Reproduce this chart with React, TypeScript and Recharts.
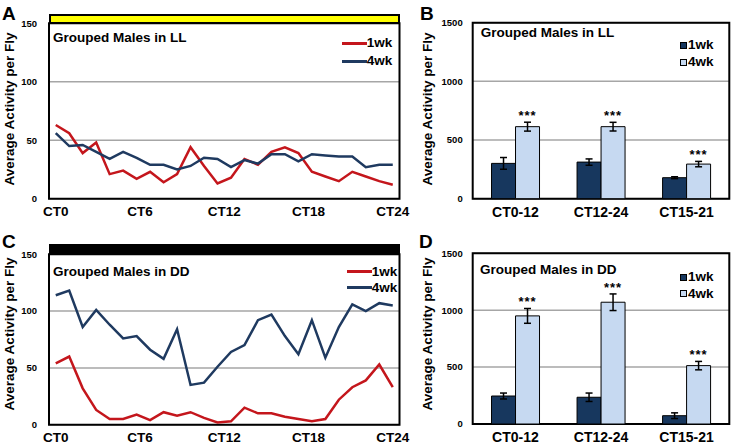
import {
  Bar,
  BarChart,
  CartesianGrid,
  ErrorBar,
  LabelList,
  Legend,
  Line,
  LineChart,
  ReferenceArea,
  XAxis,
  YAxis,
} from "recharts";

// time axis (26 bins across CT0..CT24)
const hourTicks = [0, 6, 12, 18, 24];
const hourLabels = ["CT0", "CT6", "CT12", "CT18", "CT24"];

// LL, line panel A
const ll1wk = [63, 56, 39, 48, 21, 24, 17, 23, 14, 21, 44, 28, 13, 18, 34, 29, 40, 44, 39, 23, 19, 15, 23, 19, 15, 12];
const ll4wk = [56, 45, 46, 40, 34, 40, 35, 29, 29, 25, 28, 35, 34, 27, 33, 30, 38, 38, 32, 38, 37, 36, 36, 27, 29, 29];

// DD, line panel C
const dd1wk = [54, 60, 32, 13, 5, 5, 9, 4, 11, 8, 11, 6, 2, 3, 15, 10, 10, 7, 5, 3, 5, 22, 33, 39, 53, 33];
const dd4wk = [114, 118, 86, 101, 88, 76, 78, 66, 58, 84, 35, 37, 51, 64, 70, 92, 97, 78, 62, 92, 59, 86, 106, 100, 107, 105];

// bar panels B and D
const barCats = ["CT0-12", "CT12-24", "CT15-21"];
const llBar1 = [301, 312, 179];
const llBar1Err = [50, 27, 8];
const llBar4 = [614, 614, 295];
const llBar4Err = [38, 37, 23];
const ddBar1 = [246, 235, 73];
const ddBar1Err = [26, 37, 25];
const ddBar4 = [950, 1070, 513];
const ddBar4Err = [65, 73, 37];
const sigMarks = ["***", "***", "***"];

const FONT = '"Liberation Sans", Arial, Helvetica, sans-serif';
const RED = "#c4161c";
const NAVY = "#1f3a60";
const DARK = "#17375e";
const LIGHT = "#c6d9f1";
const GRID = "#a6a6a6";

const lineRows = (a: number[], b: number[]) =>
  a.map((v, i) => ({ t: (i * 24) / (a.length - 1), w1: v, w4: b[i] }));

const barRows = (a: number[], ae: number[], b: number[], be: number[]) =>
  barCats.map((c, i) => ({ cat: c, w1: a[i], e1: ae[i], w4: b[i], e4: be[i], sig: sigMarks[i] }));

const tickStyle = { fontFamily: FONT, fontWeight: 700, fill: "#000" };

const lineLegend = (rowH: number) => (props: any) => (
  <div style={{ fontFamily: FONT, fontWeight: 700, fontSize: 13.5, color: "#000" }}>
    {(props.payload || []).map((p: any) => (
      <div key={p.value} style={{ display: "flex", alignItems: "center", height: rowH }}>
        <div style={{ width: 25, height: 3, background: p.color }} />
        <span style={{ lineHeight: 1 }}>{p.value}</span>
      </div>
    ))}
  </div>
);

const barLegend = (rowH: number) => (props: any) => (
  <div style={{ fontFamily: FONT, fontWeight: 700, fontSize: 13.5, color: "#000" }}>
    {(props.payload || []).map((p: any) => (
      <div key={p.value} style={{ display: "flex", alignItems: "center", height: rowH }}>
        <div
          style={{
            width: 7,
            height: 7,
            background: p.color,
            border: "1px solid #000",
            boxSizing: "border-box",
            marginRight: 1,
          }}
        />
        <span style={{ lineHeight: 1 }}>{p.value}</span>
      </div>
    ))}
  </div>
);

type LineProps = {
  left: number;
  top: number;
  height: number;
  plotTop: number;
  plotH: number;
  w1: number[];
  w4: number[];
  legendLeft: number;
  legendTop: number;
  rowH: number;
};

const LinePanel = ({ left, top, height, plotTop, plotH, w1, w4, legendLeft, legendTop, rowH }: LineProps) => (
  <div style={{ position: "absolute", left, top }}>
    <LineChart
      width={410}
      height={height}
      data={lineRows(w1, w4)}
      margin={{ top: plotTop, right: 10.5, left: 9, bottom: 0 }}
    >
      <CartesianGrid vertical={false} stroke={GRID} strokeWidth={1.5} />
      <XAxis
        type="number"
        dataKey="t"
        domain={[-0.48, 24.48]}
        allowDataOverflow
        ticks={hourTicks}
        interval={0}
        tickFormatter={(v) => hourLabels[hourTicks.indexOf(v)]}
        height={height - plotTop - plotH}
        axisLine={false}
        tickLine={false}
        tick={{ ...tickStyle, fontSize: 13.5 }}
      />
      <YAxis
        width={40}
        domain={[0, 150]}
        ticks={[0, 50, 100, 150]}
        axisLine={false}
        tickLine={false}
        tickMargin={6}
        tick={{ ...tickStyle, fontSize: 9.5 }}
      />
      <ReferenceArea y1={0} y2={150} fill="none" stroke="#000" strokeWidth={2} ifOverflow="visible" />
      <Legend
        layout="horizontal"
        verticalAlign="middle"
        align="center"
        wrapperStyle={{ left: legendLeft, top: legendTop, width: "auto", height: "auto" }}
        content={lineLegend(rowH)}
      />
      <Line
        name="1wk"
        dataKey="w1"
        stroke={RED}
        strokeWidth={2.5}
        dot={false}
        isAnimationActive={false}
        type="linear"
      />
      <Line
        name="4wk"
        dataKey="w4"
        stroke={NAVY}
        strokeWidth={2.5}
        dot={false}
        isAnimationActive={false}
        type="linear"
      />
    </LineChart>
  </div>
);

type BarProps = {
  left: number;
  top: number;
  height: number;
  plotTop: number;
  plotH: number;
  a: number[];
  ae: number[];
  b: number[];
  be: number[];
  legendLeft: number;
  legendTop: number;
  rowH: number;
};

const starLabel = (vals: number[], errs: number[]) => (props: any) => {
  const { x, y, width, height, index, value } = props;
  if (x == null || y == null || !vals[index]) return null;
  const errPx = (errs[index] * height) / vals[index];
  return (
    <text
      x={x + width / 2}
      y={y - errPx - 2}
      textAnchor="middle"
      fontFamily={FONT}
      fontWeight={700}
      fontSize={13}
      letterSpacing={1}
      fill="#000"
    >
      {value}
    </text>
  );
};

const BarPanel = ({ left, top, height, plotTop, plotH, a, ae, b, be, legendLeft, legendTop, rowH }: BarProps) => (
  <div style={{ position: "absolute", left, top }}>
    <BarChart
      width={311}
      height={height}
      data={barRows(a, ae, b, be)}
      margin={{ top: plotTop, right: 1.7, left: 12.7, bottom: 0 }}
      barGap={0}
      barCategoryGap="22%"
    >
      <CartesianGrid vertical={false} stroke={GRID} strokeWidth={1.5} />
      <XAxis
        dataKey="cat"
        height={height - plotTop - plotH}
        axisLine={false}
        tickLine={false}
        interval={0}
        tick={{ ...tickStyle, fontSize: 14 }}
      />
      <YAxis
        width={40}
        domain={[0, 1500]}
        ticks={[0, 500, 1000, 1500]}
        axisLine={false}
        tickLine={false}
        tickMargin={4}
        tick={{ ...tickStyle, fontSize: 9.5 }}
      />
      <ReferenceArea y1={0} y2={1500} fill="none" stroke="#000" strokeWidth={2} ifOverflow="visible" />
      <Legend
        layout="horizontal"
        verticalAlign="middle"
        align="center"
        wrapperStyle={{ left: legendLeft, top: legendTop, width: "auto", height: "auto" }}
        content={barLegend(rowH)}
      />
      <Bar name="1wk" dataKey="w1" fill={DARK} stroke="#000" strokeWidth={1} isAnimationActive={false}>
        <ErrorBar dataKey="e1" width={3.5} stroke="#000" strokeWidth={1.5} direction="y" />
      </Bar>
      <Bar name="4wk" dataKey="w4" fill={LIGHT} stroke="#000" strokeWidth={1} isAnimationActive={false}>
        <ErrorBar dataKey="e4" width={3.5} stroke="#000" strokeWidth={1.5} direction="y" />
        <LabelList dataKey="sig" content={starLabel(b, be)} />
      </Bar>
    </BarChart>
  </div>
);

const abs = (left: number, top: number, extra: any = {}) => ({
  position: "absolute" as const,
  left,
  top,
  fontFamily: FONT,
  fontWeight: 700,
  lineHeight: 1,
  color: "#000",
  whiteSpace: "nowrap" as const,
  ...extra,
});

const YLabel = ({ cx, cy }: { cx: number; cy: number }) => (
  <div style={abs(cx, cy, { fontSize: 13.5, transform: "translate(-50%, -50%) rotate(-90deg)" })}>
    Average Activity per Fly
  </div>
);

export default function App() {
  return (
    <div style={{ position: "absolute", left: 0, top: 0, width: 731, height: 445, background: "#fff", overflow: "hidden" }}>
      <LinePanel
        left={0}
        top={0}
        height={222}
        plotTop={23.3}
        plotH={175.4}
        w1={ll1wk}
        w4={ll4wk}
        legendLeft={341.7}
        legendTop={34}
        rowH={18}
      />
      <LinePanel
        left={0}
        top={220}
        height={225}
        plotTop={34.3}
        plotH={170.4}
        w1={dd1wk}
        w4={dd4wk}
        legendLeft={346.7}
        legendTop={43}
        rowH={16.6}
      />
      <BarPanel
        left={420}
        top={0}
        height={222}
        plotTop={22.7}
        plotH={176}
        a={llBar1}
        ae={llBar1Err}
        b={llBar4}
        be={llBar4Err}
        legendLeft={260}
        legendTop={36.5}
        rowH={17}
      />
      <BarPanel
        left={420}
        top={220}
        height={225}
        plotTop={33.3}
        plotH={170.7}
        a={ddBar1}
        ae={ddBar1Err}
        b={ddBar4}
        be={ddBar4Err}
        legendLeft={260}
        legendTop={48.8}
        rowH={16.7}
      />

      {/* light regime bars */}
      <div style={{ position: "absolute", left: 49, top: 14, width: 350.5, height: 10, background: "#ffff00", border: "2px solid #000", boxSizing: "border-box" }} />
      <div style={{ position: "absolute", left: 49, top: 244, width: 350.5, height: 11, background: "#000" }} />

      {/* panel letters */}
      <div style={abs(2, 4, { fontSize: 19 })}>A</div>
      <div style={abs(420, 4, { fontSize: 19 })}>B</div>
      <div style={abs(2, 232, { fontSize: 19 })}>C</div>
      <div style={abs(419, 232, { fontSize: 19 })}>D</div>

      {/* titles */}
      <div style={abs(53, 31.3, { fontSize: 13.5 })}>Grouped Males in LL</div>
      <div style={abs(480.7, 26.3, { fontSize: 13.5 })}>Grouped Males in LL</div>
      <div style={abs(53, 264.6, { fontSize: 13.5 })}>Grouped Males in DD</div>
      <div style={abs(480, 262.9, { fontSize: 13.5 })}>Grouped Males in DD</div>

      <YLabel cx={10} cy={109} />
      <YLabel cx={428} cy={109} />
      <YLabel cx={10} cy={334} />
      <YLabel cx={428} cy={334} />
    </div>
  );
}
